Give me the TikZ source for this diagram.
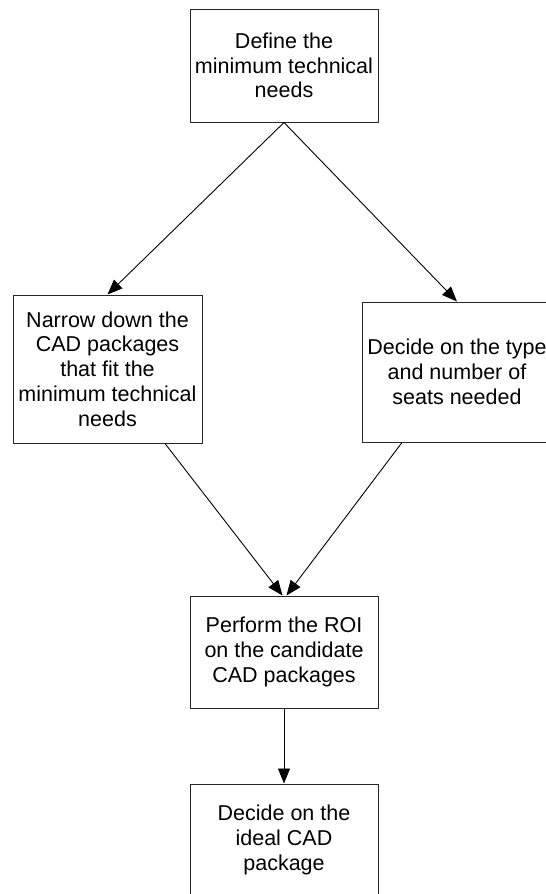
\documentclass[tikz,border=0pt]{standalone}
\usepackage{fontspec}
\setmainfont{Liberation Sans}
\usetikzlibrary{arrows.meta,calc}
\begin{document}
\begin{tikzpicture}[x=1pt,y=-1pt,
  box/.style={draw=black!85,line width=1pt,fill=white,inner sep=0pt,align=center,
    font=\fontsize{21.5}{24.7}\selectfont},
  arr/.style={line width=0.9pt,-{Triangle[length=15pt,width=12pt]}}]
\useasboundingbox (0,0) rectangle (546,894);
\node[box,minimum width=188pt,minimum height=113pt] (top) at (284,65.5) {Define the\\minimum technical\\needs};
\node[box,minimum width=189pt,minimum height=148pt] (left) at (107.5,369) {Narrow down the\\CAD packages\\that fit the\\minimum technical\\needs};
\node[box,minimum width=190pt,minimum height=140pt] (right) at (457,372) {Decide on the type\\and number of\\seats needed};
\node[box,minimum width=188pt,minimum height=112pt] (mid) at (284,652) {Perform the ROI\\on the candidate\\CAD packages};
\node[box,minimum width=188pt,minimum height=112pt] (bot) at (284,840) {Decide on the\\ideal CAD\\package};
\coordinate (ls) at ($(left.south)+(57.5,0)$);
\coordinate (rs) at ($(right.south)+(-55,0)$);
\coordinate (mtl) at ($(mid.north)+(-1.5,0)$);
\coordinate (mtr) at ($(mid.north)+(2.5,0)$);
\draw[arr] (top.south) -- (left.north);
\draw[arr] (top.south) -- (right.north);
\draw[arr] (ls) -- (mtl);
\draw[arr] (rs) -- (mtr);
\draw[arr] (mid.south) -- (bot.north);
\end{tikzpicture}
\end{document}
